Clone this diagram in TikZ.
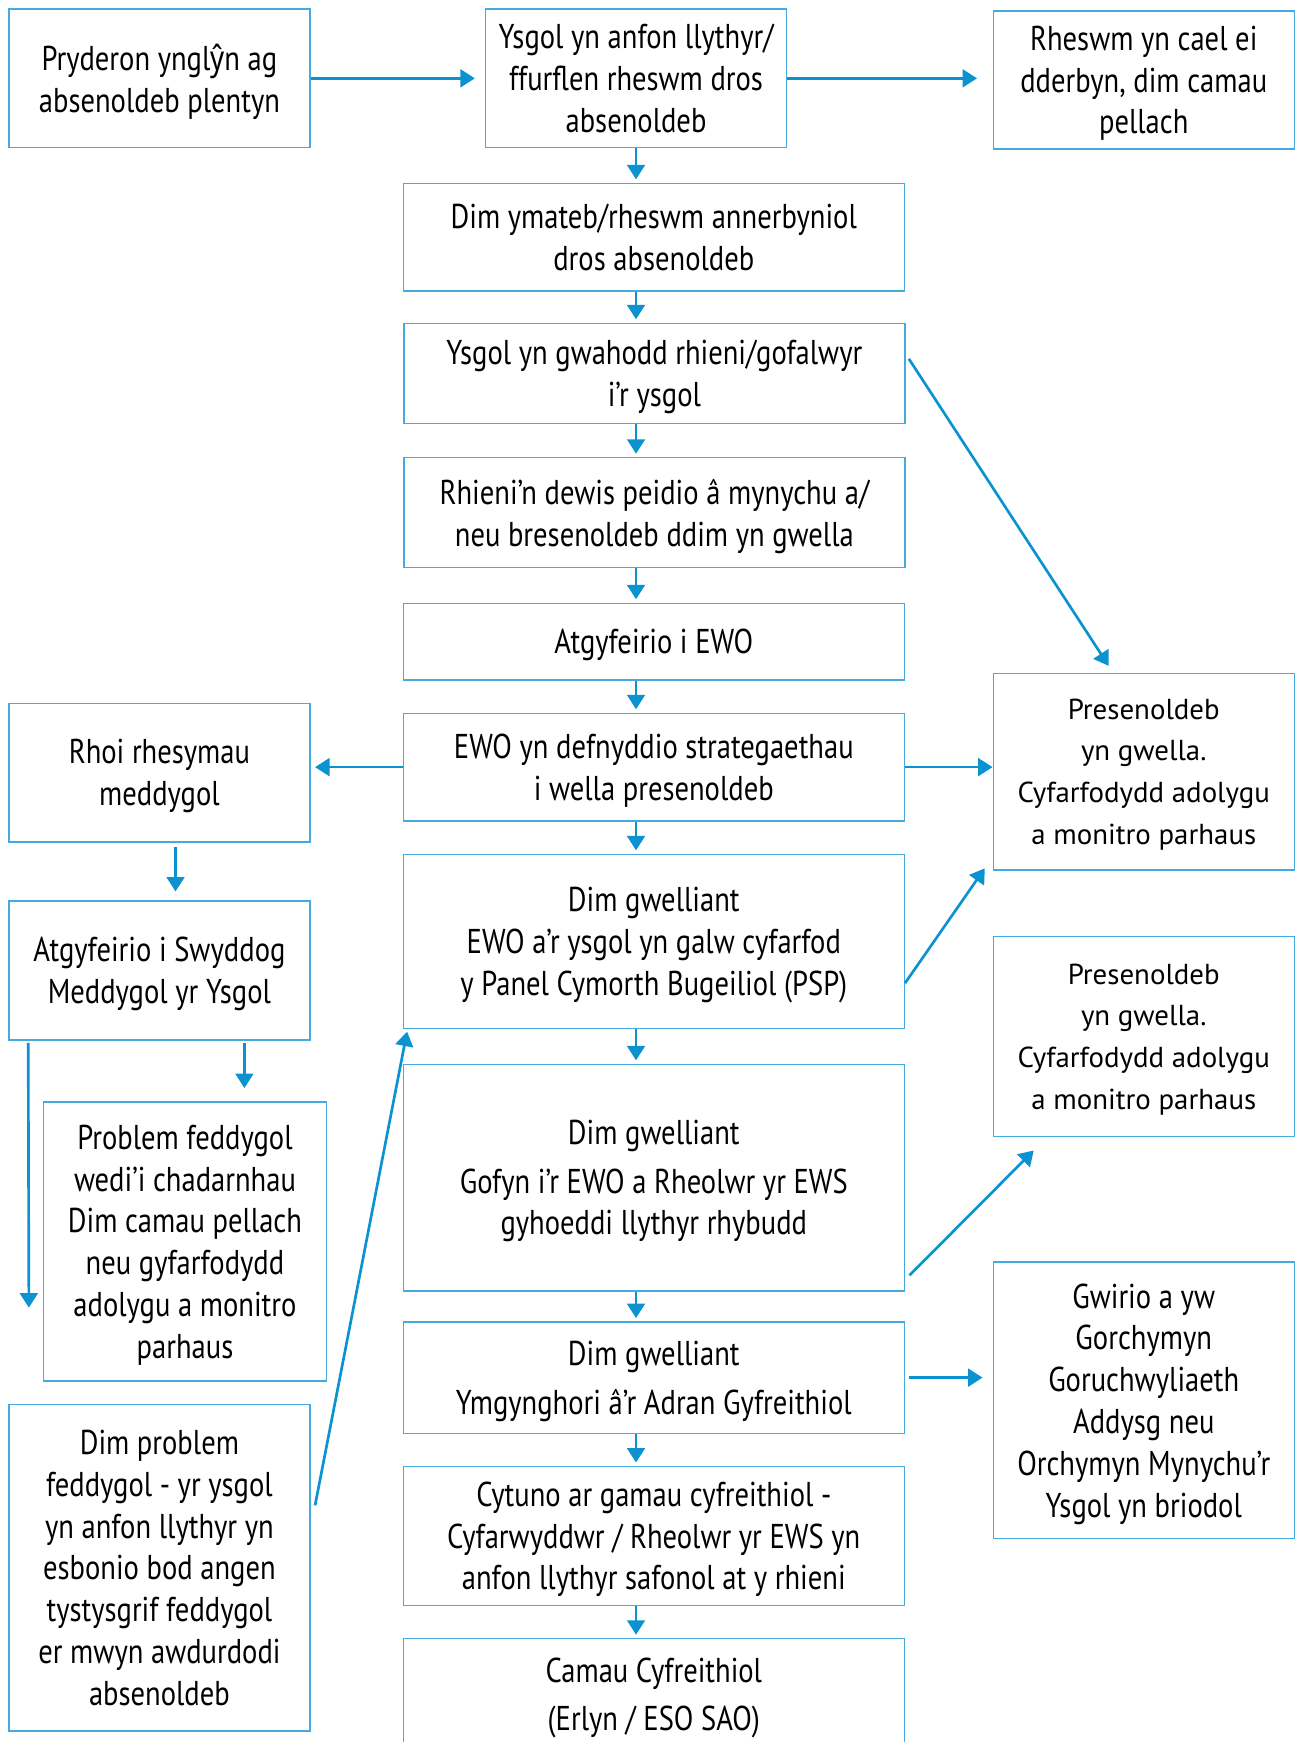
\documentclass[tikz,border=0pt]{standalone}
\usepackage{fontspec}
\setmainfont[FakeStretch=0.83]{PT Sans}
\newfontfamily\widefont{PT Sans}
\newfontfamily\yfont[FakeStretch=0.8]{Noto Sans}
\usetikzlibrary{arrows.meta}
\definecolor{boxblue}{HTML}{45AADD}
\definecolor{arrblue}{HTML}{0A93D0}
\newcommand{\yhat}{{\yfont ŷ}}
\tikzset{
  box/.style={draw=boxblue, line width=0.6pt, align=center, inner sep=0pt,
    font=\fontsize{15.5}{18.8}\selectfont, text depth=-1.5pt},
  wbox/.style={box, font=\fontsize{13}{18.8}\widefont},
  nw/.style={minimum width=135.5pt},
  ww/.style={minimum width=225.5pt},
  arr/.style={draw=arrblue, line width=1.2pt, -{Triangle[length=6.5pt,width=8pt]}, shorten >=1.5pt}
}

\begin{document}
\begin{tikzpicture}[x=0.5pt, y=-0.5pt]
\useasboundingbox (0,0) rectangle (1170,1568);

% top row
\node[box, nw, minimum height=62.5pt] (p) at (143.5,70.5) {Pryderon yngl\yhat n ag\\absenoldeb plentyn};
\node[box, nw, minimum height=62.5pt] (y) at (572.5,70.5) {Ysgol yn anfon llythyr/\\ffurflen rheswm dros\\absenoldeb};
\node[box, nw, minimum height=62pt] (r) at (1029.5,72) {Rheswm yn cael ei\\dderbyn, dim camau\\pellach};

% middle column
\node[box, ww, minimum height=48.5pt] (d) at (588.5,213.5) {Dim ymateb/rheswm annerbyniol\\dros absenoldeb};
\node[box, ww, minimum height=45pt] (g) at (589,336) {Ysgol yn gwahodd rhieni/gofalwyr\\i’r ysgol};
\node[box, ww, minimum height=49.5pt] (rh) at (589,461.5) {Rhieni’n dewis peidio â mynychu a/\\neu bresenoldeb ddim yn gwella};
\node[box, ww, minimum height=34.5pt] (a) at (588.5,577.5) {Atgyfeirio i EWO};
\node[box, ww, minimum height=48.5pt] (e) at (588.5,690.5) {EWO yn defnyddio strategaethau\\i wella presenoldeb};
\node[box, ww, minimum height=78.5pt] (dg1) at (588.5,847.5) {Dim gwelliant\\EWO a’r ysgol yn galw cyfarfod\\y Panel Cymorth Bugeiliol (PSP)};
\node[box, ww, minimum height=102pt] (dg2) at (588.5,1060) {Dim gwelliant\\[3pt]Gofyn i’r EWO a Rheolwr yr EWS\\gyhoeddi llythyr rhybudd};
\node[box, ww, minimum height=50pt] (dg3) at (588.5,1240) {Dim gwelliant\\[3pt]Ymgynghori â’r Adran Gyfreithiol};
\node[box, ww, minimum height=62.5pt] (c) at (588.5,1382.5) {Cytuno ar gamau cyfreithiol -\\Cyfarwyddwr / Rheolwr yr EWS yn\\anfon llythyr safonol at y rhieni};
\node[box, ww, minimum height=50pt] (cc) at (588.5,1525) {Camau Cyfreithiol\\[3pt](Erlyn / ESO SAO)};

% left column
\node[box, nw, minimum height=62.5pt] (m) at (143.5,695.5) {Rhoi rhesymau\\meddygol};
\node[box, nw, minimum height=62.5pt] (s) at (143.5,873.5) {Atgyfeirio i Swyddog\\Meddygol yr Ysgol};
\node[box, minimum width=127.5pt, minimum height=125.5pt] (prob) at (166.5,1117.5) {Problem feddygol\\wedi’i chadarnhau\\Dim camau pellach\\neu gyfarfodydd\\adolygu a monitro\\parhaus};
\node[box, nw, minimum height=147pt] (dp) at (143.5,1411) {Dim problem\\feddygol - yr ysgol\\yn anfon llythyr yn\\esbonio bod angen\\tystysgrif feddygol\\er mwyn awdurdodi\\absenoldeb};
\coordinate (sdown) at (26,1177);

% right column
\node[wbox, nw, minimum height=88.5pt] (pr1) at (1029.5,694.5) {Presenoldeb\\yn gwella.\\Cyfarfodydd adolygu\\a monitro parhaus};
\node[wbox, nw, minimum height=90pt] (pr2) at (1029.5,933) {Presenoldeb\\yn gwella.\\Cyfarfodydd adolygu\\a monitro parhaus};
\node[box, nw, minimum height=124.5pt] (gw) at (1029.5,1260.5) {Gwirio a yw\\Gorchymyn\\Goruchwyliaeth\\Addysg neu\\Orchymyn Mynychu’r\\Ysgol yn briodol};

% arrows
\draw[arr, shorten >=4.5pt] (p) -- (y);
\draw[arr, shorten >=7pt] (y.east) -- (y.east -| r.west);
\foreach \a/\b in {y/d, d/g, g/rh, rh/a, a/e, e/dg1, dg1/dg2, dg2/dg3, dg3/c, c/cc}
  \draw[arr] (\a.south -| y) -- (\b.north -| y);
\draw[arr, shorten >=2pt] (e.west) -- (e.west -| m.east);
\draw[arr, shorten >=0pt] (e.east) -- (e.east -| pr1.west);
\draw[arr, shorten >=0pt] ([shift={(3,-13)}]g.east) -- ([shift={(-31.5,-6)}]pr1.north);
\draw[arr, shorten >=0pt] ([shift={(0,37.5)}]dg1.east) -- ([shift={(-7,-2)}]pr1.south west);
\draw[arr, shorten >=0pt] ([shift={(4,88)}]dg2.east) -- ([shift={(37,12)}]pr2.south west);
\draw[arr, shorten <=2pt, shorten >=4.5pt] (dg3.east) -- (dg3.east -| gw.west);
\draw[arr, shorten >=0pt] ([shift={(14.5,4)}]m.south) -- ([shift={(14.5,-8)}]s.north);
\draw[arr, shorten >=0pt] ([shift={(76.5,2)}]s.south) -- ([shift={(53.5,-12)}]prob.north);
\draw[arr, shorten >=0pt] ([shift={(18,2)}]s.south west) -- (sdown);
\draw[arr, shorten >=0pt] ([shift={(4,-56)}]dp.east) -- ([shift={(4,2)}]dg1.south west);
\end{tikzpicture}
\end{document}
